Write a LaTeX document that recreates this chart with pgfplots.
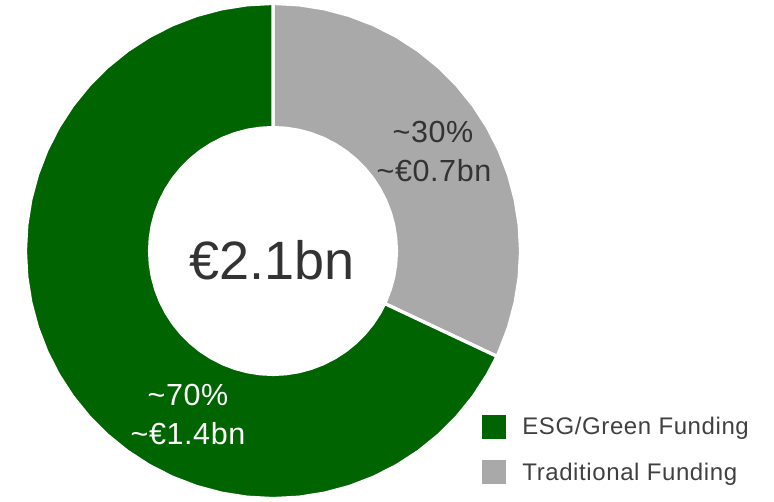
\documentclass[border=0pt]{standalone}
\usepackage{fontspec}
\setmainfont{Liberation Sans}
\newfontfamily\legfont[LetterSpace=2.5]{Liberation Sans}
\newfontfamily\labfont[LetterSpace=2]{Liberation Sans}
\usepackage{pgfplots}
\pgfplotsset{compat=1.18}
\definecolor{esggreen}{HTML}{006400}
\definecolor{tradgray}{HTML}{A9A9A9}
\definecolor{darktext}{HTML}{333333}
\definecolor{legtext}{HTML}{404040}
\begin{document}
\begin{tikzpicture}
% Shares: ESG/Green Funding 68%, Traditional Funding 32% (angles 0.68*360 = 244.8 deg, 0.32*360 = 115.2 deg)
\begin{axis}[
  at={(0pt,0pt)}, anchor=south west,
  width=774pt, height=501pt, scale only axis,
  xmin=-273, xmax=501, ymin=-250, ymax=251,
  hide axis, clip=false,
  legend cell align=left,
  legend style={at={(axis cs:209,-164)}, anchor=north west, draw=none, fill=none,
    inner sep=0pt, outer sep=0pt, column sep=17pt, row sep=22pt,
    nodes={inner sep=0pt, text=legtext, font=\legfont\fontsize{24}{28}\selectfont}},
]
\addlegendimage{legend image code/.code={\fill[esggreen] (0pt,-11.5pt) rectangle (23pt,11.5pt);}}
\addlegendentry{ESG/Green Funding}
\addlegendimage{legend image code/.code={\fill[tradgray] (0pt,-11.5pt) rectangle (23pt,11.5pt);}}
\addlegendentry{Traditional Funding}

% Traditional Funding slice: 90 -> -25.2 deg
\addplot[fill=tradgray, draw=white, line width=3.3pt, line join=round, data cs=polar, forget plot] coordinates {
(90,247.6) (84,247.6) (78,247.6) (72,247.6) (66,247.6) (60,247.6) (54,247.6) (48,247.6) (42,247.6) (36,247.6) (30,247.6) (24,247.6) (18,247.6) (12,247.6) (6,247.6) (0,247.6) (-6,247.6) (-12,247.6) (-18,247.6) (-24,247.6) (-25.2,247.6)
(-25.2,123.4) (-24,123.4) (-18,123.4) (-12,123.4) (-6,123.4) (0,123.4) (6,123.4) (12,123.4) (18,123.4) (24,123.4) (30,123.4) (36,123.4) (42,123.4) (48,123.4) (54,123.4) (60,123.4) (66,123.4) (72,123.4) (78,123.4) (84,123.4) (90,123.4)
} -- cycle;

% ESG/Green Funding slice: -25.2 -> -270 deg
\addplot[fill=esggreen, draw=white, line width=3.3pt, line join=round, data cs=polar, forget plot] coordinates {
(-25.2,247.6) (-30,247.6) (-36,247.6) (-42,247.6) (-48,247.6) (-54,247.6) (-60,247.6) (-66,247.6) (-72,247.6) (-78,247.6) (-84,247.6) (-90,247.6) (-96,247.6) (-102,247.6) (-108,247.6) (-114,247.6) (-120,247.6) (-126,247.6) (-132,247.6) (-138,247.6) (-144,247.6) (-150,247.6) (-156,247.6) (-162,247.6) (-168,247.6) (-174,247.6) (-180,247.6) (-186,247.6) (-192,247.6) (-198,247.6) (-204,247.6) (-210,247.6) (-216,247.6) (-222,247.6) (-228,247.6) (-234,247.6) (-240,247.6) (-246,247.6) (-252,247.6) (-258,247.6) (-264,247.6) (-270,247.6)
(-270,123.4) (-264,123.4) (-258,123.4) (-252,123.4) (-246,123.4) (-240,123.4) (-234,123.4) (-228,123.4) (-222,123.4) (-216,123.4) (-210,123.4) (-204,123.4) (-198,123.4) (-192,123.4) (-186,123.4) (-180,123.4) (-174,123.4) (-168,123.4) (-162,123.4) (-156,123.4) (-150,123.4) (-144,123.4) (-138,123.4) (-132,123.4) (-126,123.4) (-120,123.4) (-114,123.4) (-108,123.4) (-102,123.4) (-96,123.4) (-90,123.4) (-84,123.4) (-78,123.4) (-72,123.4) (-66,123.4) (-60,123.4) (-54,123.4) (-48,123.4) (-42,123.4) (-36,123.4) (-30,123.4) (-25.2,123.4)
} -- cycle;

\node[anchor=base, text=darktext, font=\labfont\fontsize{30.5}{36}\selectfont] at (axis cs:160,108) {\textasciitilde 30\%};
\node[anchor=base, text=darktext, font=\labfont\fontsize{30.5}{36}\selectfont] at (axis cs:161,69) {\textasciitilde €0.7bn};
\node[anchor=base, text=white, font=\labfont\fontsize{30.5}{36}\selectfont] at (axis cs:-85,-154) {\textasciitilde 70\%};
\node[anchor=base, text=white, font=\labfont\fontsize{30.5}{36}\selectfont] at (axis cs:-85,-193) {\textasciitilde €1.4bn};
\node[anchor=base, text=darktext, font=\fontsize{54}{60}\selectfont] at (axis cs:-1,-29) {€2.1bn};
\end{axis}
\path[use as bounding box] (0pt,0pt) rectangle (774pt,501pt);
\end{tikzpicture}
\end{document}
